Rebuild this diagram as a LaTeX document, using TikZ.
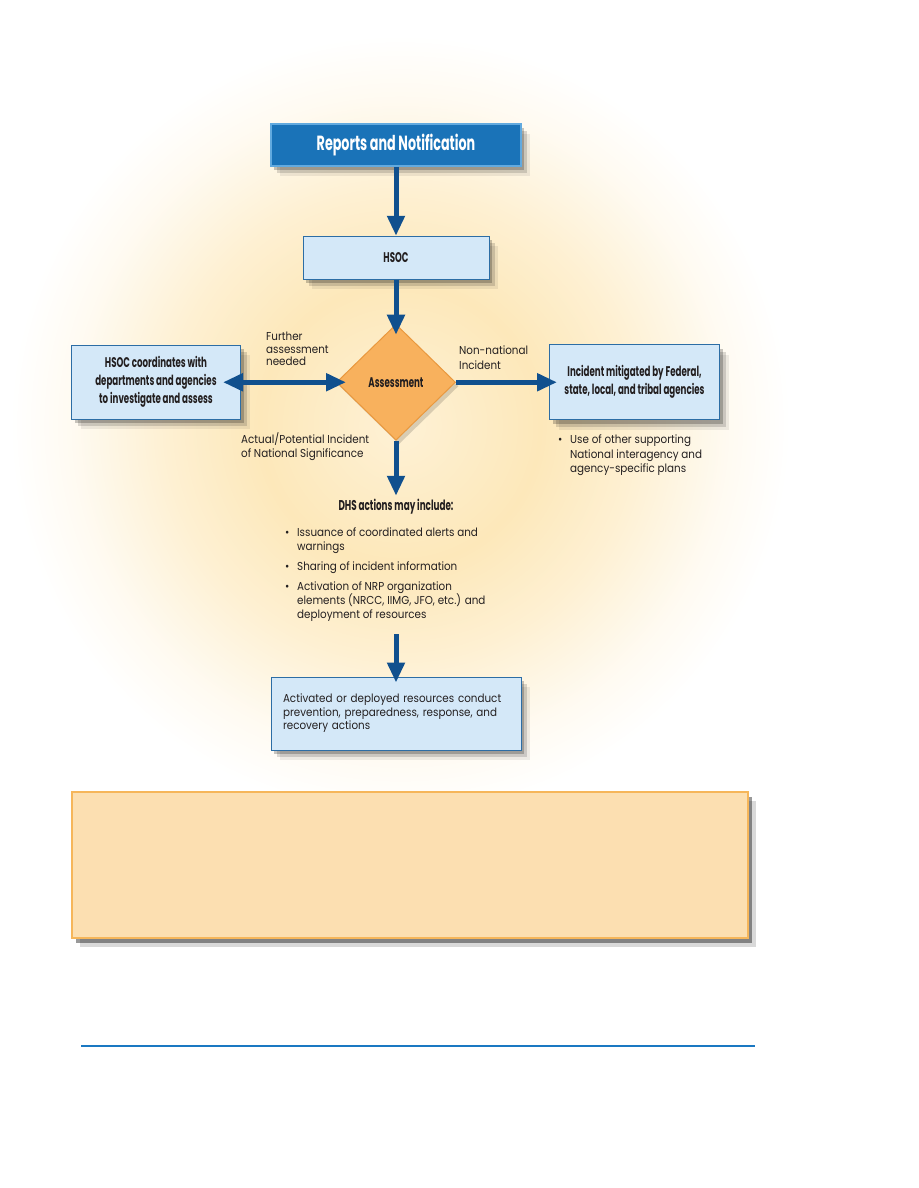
\documentclass[tikz,border=0pt]{standalone}
\usepackage{fontspec}
\setmainfont{Poppins}[FakeStretch=0.9]
\newfontfamily\condfont{Poppins}[FakeStretch=0.62]
\usetikzlibrary{arrows.meta, positioning, shapes.geometric, shadows}
\usepackage{xcolor}
\definecolor{RepBlue}{HTML}{1A73B8}
\definecolor{RepEdge}{HTML}{62AADF}
\definecolor{PaleBlue}{HTML}{D4E8F8}
\definecolor{BoxEdge}{HTML}{2C6DA5}
\definecolor{FlowNavy}{HTML}{10508E}
\definecolor{Orange}{HTML}{F8B15D}
\definecolor{OrangeEdge}{HTML}{E9983E}
\definecolor{NoteFill}{HTML}{FCDFB1}
\definecolor{NoteEdge}{HTML}{F6B65A}
\definecolor{GlowCore}{HTML}{FDE8BA}
\definecolor{RuleBlue}{HTML}{1A78C2}
\definecolor{TextGrey}{HTML}{231F20}
% tikz fits the middle 50bp of a shading to the path
\pgfdeclareradialshading{glow}{\pgfpoint{0bp}{0bp}}{color(0bp)=(GlowCore!60!white); color(9bp)=(GlowCore); color(15bp)=(GlowCore!65!white); color(21bp)=(GlowCore!20!white); color(25bp)=(white); color(50bp)=(white)}
\newcommand{\bl}{\makebox[12pt][l]{\textbullet}}
\newcommand{\ind}{\hspace*{12pt}}
\tikzset{
  boxshadow/.style={
    drop shadow={shadow xshift=3pt, shadow yshift=-4pt, fill=black, opacity=0.22},
    drop shadow={shadow xshift=6pt, shadow yshift=-7pt, fill=black, opacity=0.14},
    drop shadow={shadow xshift=9pt, shadow yshift=-10pt, fill=black, opacity=0.07}},
  headbox/.style={draw=RepEdge, line width=1.5pt, fill=RepBlue, text=white, boxshadow,
    minimum width=250pt, minimum height=42pt, font=\condfont\bfseries\fontsize{20.5}{24}\selectfont},
  lbox/.style={draw=BoxEdge, line width=1pt, fill=PaleBlue, text=TextGrey, align=center, boxshadow,
    font=\condfont\bfseries\fontsize{14}{18}\selectfont},
  decide/.style={diamond, draw=OrangeEdge, line width=1pt, fill=Orange, text=TextGrey, inner sep=0pt,
    minimum width=119pt, minimum height=116pt, font=\condfont\bfseries\fontsize{14}{16}\selectfont,
    drop shadow={shadow xshift=3pt, shadow yshift=-4pt, fill=black, opacity=0.15}},
  hdr/.style={inner sep=0pt, text=TextGrey, font=\condfont\bfseries\fontsize{14.2}{16}\selectfont},
  lbl/.style={inner sep=0pt, align=left, text=TextGrey, font=\fontsize{11.5}{14.5}\selectfont},
  notebox/.style={draw=NoteEdge, line width=1.5pt, fill=NoteFill,
    drop shadow={shadow xshift=4pt, shadow yshift=-5pt, fill=black, opacity=0.4},
    drop shadow={shadow xshift=8pt, shadow yshift=-9pt, fill=black, opacity=0.15}},
  flow/.style={-{Triangle[length=20pt, width=17pt]}, line width=5pt, draw=FlowNavy},
  flowtwo/.style={{Triangle[length=20pt, width=17pt]}-{Triangle[length=20pt, width=17pt]}, line width=5pt, draw=FlowNavy},
}

\begin{document}
\begin{tikzpicture}[x=1pt, y=-1pt]
  \useasboundingbox[fill=white] (0,0) rectangle (918,1188);
  \shade[shading=glow] (400,425) circle (390pt);

  \node[headbox] (rep) at (396,145) {Reports and Notification};
  \node[lbox, minimum width=186pt, minimum height=43pt, below=69pt of rep] (hsoc) {HSOC};
  \node[decide, below=44pt of hsoc] (ass) {Assessment};
  \node[lbox, minimum width=169pt, minimum height=74pt, left=95pt of ass] (coord)
    {HSOC coordinates with\\departments and agencies\\to investigate and assess};
  \node[lbox, minimum width=170pt, minimum height=75pt, right=93pt of ass] (mitig)
    {Incident mitigated by Federal,\\state, local, and tribal agencies};

  \node[lbl, anchor=north west, font=\fontsize{11.5}{12.5}\selectfont] (further) at (266,332) {Further\\assessment\\needed};
  \node[lbl, anchor=north west] (nonnat) at (459,346) {Non-national\\Incident};
  \node[lbl, anchor=north west] (actual) at (241,432) {Actual/Potential Incident\\of National Significance};
  \node[lbl, anchor=north west] (other) at (558,435)
    {\bl Use of other supporting\\\ind National interagency and\\\ind agency-specific plans};

  \node[hdr, below=58pt of ass] (dhs) {DHS actions may include:};
  \node[lbl, anchor=north west, font=\fontsize{11.5}{14}\selectfont] (lst) at (285,528)
    {\bl Issuance of coordinated alerts and\\\ind warnings\\[6pt]
     \bl Sharing of incident information\\[6pt]
     \bl Activation of NRP organization\\\ind elements (NRCC, IIMG, JFO, etc.) and\\\ind deployment of resources};

  \node[lbox, minimum width=250pt, minimum height=73pt, text width=226pt, align=left,
    font=\fontsize{11.5}{13.5}\selectfont] (act) at (396,713.5)
    {Activated or deployed resources conduct\\prevention, preparedness, response, and\\recovery actions};

  \node[notebox, minimum width=676pt, minimum height=146pt] (note) at (410,865) {};

  \draw[flow] (rep) -- (hsoc);
  \draw[flow, shorten >=-11pt] (hsoc) -- (ass);
  \draw[flowtwo, shorten <=-18pt, shorten >=-10pt] (coord.east) -- (ass.west);
  \draw[flow, shorten >=-8pt] (ass.east) -- (mitig.west);
  \draw[flow, shorten >=3pt] (ass.south) -- (dhs.north);
  \draw[flow, shorten <=12pt, shorten >=-6pt] (lst.south -| act.north) -- (act.north);

  \draw[RuleBlue, line width=1.5pt] (81,1046) -- (755,1046);
\end{tikzpicture}
\end{document}
